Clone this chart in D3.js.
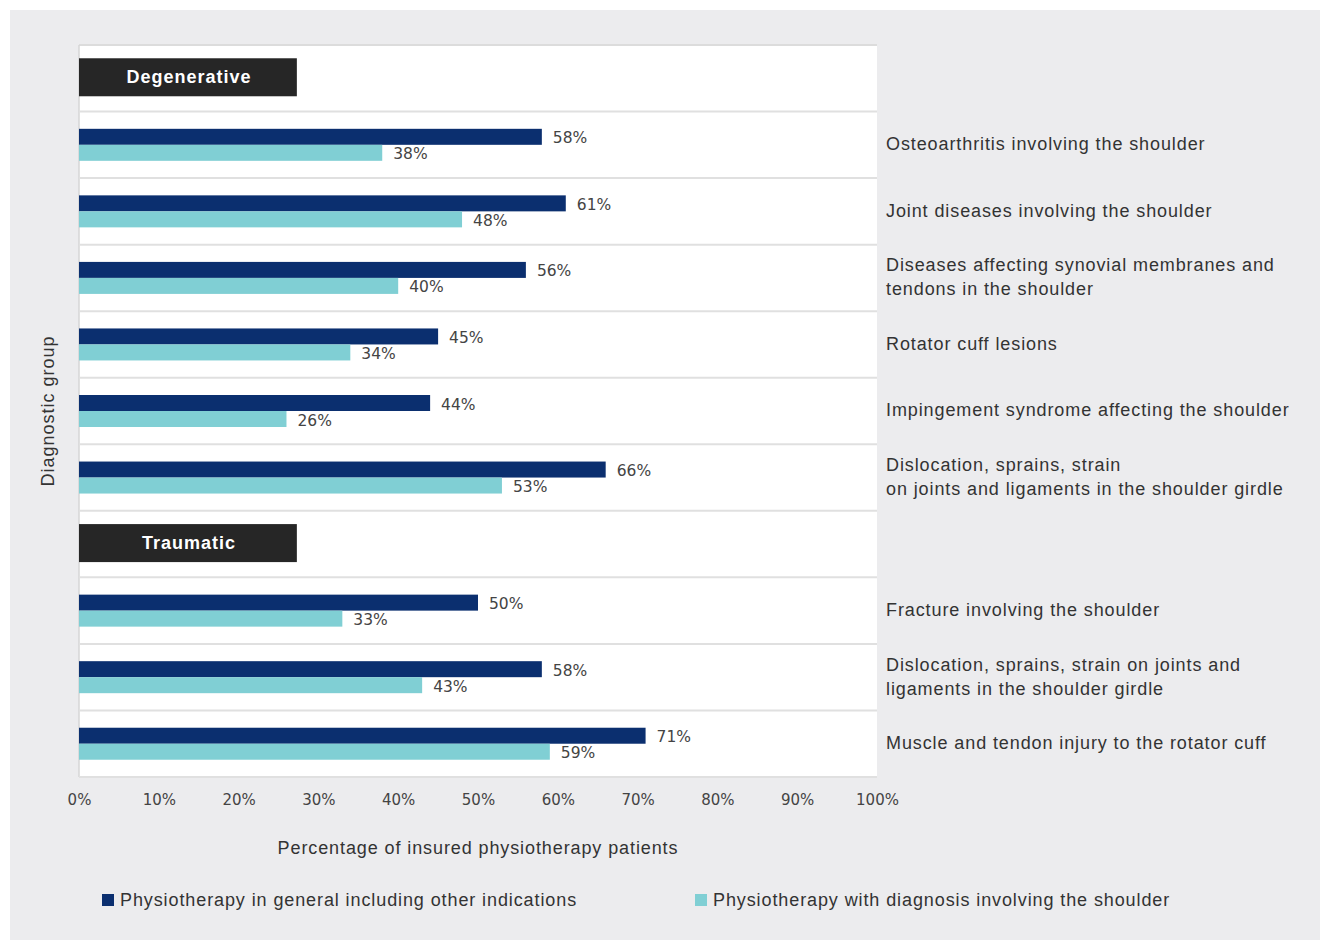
<!DOCTYPE html>
<html><head><meta charset="utf-8">
<script src="https://cdn.jsdelivr.net/npm/d3@7/dist/d3.min.js"></script>
<style>
html,body{margin:0;padding:0;background:#fff;}
svg{display:block;}
</style></head>
<body>
<svg id="chart" width="1320" height="940"></svg>
<script>
// ---- data ----
const groupNames = ["Degenerative", "Traumatic"];
const categories = [
  "Osteoarthritis involving the shoulder",
  "Joint diseases involving the shoulder",
  "Diseases affecting synovial membranes and\ntendons in the shoulder",
  "Rotator cuff lesions",
  "Impingement syndrome affecting the shoulder",
  "Dislocation, sprains, strain\non joints and ligaments in the shoulder girdle",
  "Fracture involving the shoulder",
  "Dislocation, sprains, strain on joints and\nligaments in the shoulder girdle",
  "Muscle and tendon injury to the rotator cuff"
];
const categoryGroup = ["Degenerative","Degenerative","Degenerative","Degenerative","Degenerative","Degenerative","Traumatic","Traumatic","Traumatic"];
const generalValues  = [58, 61, 56, 45, 44, 66, 50, 58, 71];
const shoulderValues = [38, 48, 40, 34, 26, 53, 33, 43, 59];
const seriesNames = ["Physiotherapy in general including other indications", "Physiotherapy with diagnosis involving the shoulder"];
const xTicks = [0, 10, 20, 30, 40, 50, 60, 70, 80, 90, 100];
const xTitle = "Percentage of insured physiotherapy patients";
const yTitle = "Diagnostic group";

// ---- build rows ----
const rows = [];
groupNames.forEach(g => {
  rows.push({key: "H_" + g, header: true, label: g});
  categories.forEach((c, i) => {
    if (categoryGroup[i] === g) rows.push({key: "C_" + i, header: false, label: c, general: generalValues[i], shoulder: shoulderValues[i]});
  });
});

const colDark = "#0b2f6f", colLight = "#80cfd4";
const textFont = "Liberation Sans, Arial, sans-serif";
const numFont = "DejaVu Sans, sans-serif";
const ls = "0.9px";
const svg = d3.select("#chart");

// background panel
svg.append("rect").attr("x", 10).attr("y", 10).attr("width", 1310).attr("height", 930).attr("fill", "#ececee");

const plot = {left: 79, right: 877, top: 45, bottom: 777};
const x = d3.scaleLinear().domain([0, 100]).range([plot.left, plot.right]);
const y = d3.scaleBand().domain(rows.map(r => r.key)).range([plot.top, plot.bottom]).padding(0);
const sub = d3.scaleBand().domain(["general", "shoulder"]).range([0, 32]).padding(0);

// plot bg
svg.append("rect").attr("x", plot.left).attr("y", plot.top)
  .attr("width", plot.right - plot.left).attr("height", plot.bottom - plot.top).attr("fill", "#fff");
// top border
svg.append("line").attr("x1", plot.left).attr("x2", plot.right).attr("y1", plot.top).attr("y2", plot.top)
  .attr("stroke", "#dcdcdc").attr("stroke-width", 2);
// left axis line
svg.append("line").attr("x1", plot.left).attr("x2", plot.left).attr("y1", plot.top).attr("y2", plot.bottom)
  .attr("stroke", "#d6d6d6").attr("stroke-width", 1.5);

// separators
svg.append("g").selectAll("line").data(rows.slice(1).map(r => r.key).concat(["__end"])).join("line")
  .attr("x1", plot.left).attr("x2", plot.right)
  .attr("y1", d => d === "__end" ? plot.bottom : y(d))
  .attr("y2", d => d === "__end" ? plot.bottom : y(d))
  .attr("stroke", "#e0e0e0").attr("stroke-width", 2);

const bw = y.bandwidth();

// headers
const hdr = svg.append("g").selectAll("g").data(rows.filter(r => r.header)).join("g");
hdr.append("rect").attr("x", x(0)).attr("y", d => y(d.key) + bw / 2 - 20)
  .attr("width", x(27.3) - x(0)).attr("height", 38).attr("fill", "#262626");
hdr.append("text").attr("x", (x(0) + x(27.3)) / 2 + 1).attr("y", d => y(d.key) + bw / 2 - 2)
  .attr("dy", "0.36em").attr("text-anchor", "middle")
  .attr("font-family", textFont).attr("font-weight", "bold").attr("letter-spacing", "1px")
  .attr("font-size", 18).attr("fill", "#fff").text(d => d.label);

// bars
const cats = rows.filter(r => !r.header);
const cg = svg.append("g").selectAll("g").data(cats).join("g")
  .attr("transform", d => `translate(0,${y(d.key) + bw / 2 - 16})`);
["general", "shoulder"].forEach(s => {
  cg.append("rect").attr("x", x(0)).attr("y", sub(s))
    .attr("width", d => x(d[s]) - x(0)).attr("height", sub.bandwidth())
    .attr("fill", s === "general" ? colDark : colLight);
  cg.append("text").attr("x", d => x(d[s]) + 11).attr("y", sub(s) + sub.bandwidth() / 2 + 1)
    .attr("dy", "0.36em").attr("font-family", numFont).attr("font-size", 15.5)
    .attr("fill", "#444").text(d => d[s] + "%");
});

// category labels
const lab = svg.append("g").selectAll("text").data(cats).join("text")
  .attr("x", 886).attr("font-family", textFont).attr("font-size", 18).attr("letter-spacing", ls)
  .attr("fill", "#333");
lab.each(function(d) {
  const lines = d.label.split("\n");
  const lh = 24;
  const c = y(d.key) + bw / 2 - 1;
  const t = d3.select(this);
  lines.forEach((ln, i) => {
    t.append("tspan").attr("x", 886).attr("y", c - (lines.length - 1) * lh / 2 + i * lh)
      .attr("dy", "0.36em").text(ln);
  });
});

// x axis
const xAxis = d3.axisBottom(x).tickValues(xTicks).tickFormat(d => d + "%").tickSize(0).tickPadding(0);
const ax = svg.append("g").attr("transform", `translate(0,${plot.bottom})`).call(xAxis);
ax.select(".domain").remove();
ax.selectAll("text").attr("y", 23).attr("dy", "0.36em")
  .attr("font-family", numFont).attr("font-size", 15).attr("fill", "#444");

// titles
svg.append("text").attr("x", (plot.left + plot.right) / 2).attr("y", 848).attr("dy", "0.36em")
  .attr("text-anchor", "middle").attr("font-family", textFont).attr("letter-spacing", ls)
  .attr("font-size", 18).attr("fill", "#333").text(xTitle);
svg.append("text").attr("transform", `translate(48,${(plot.top + plot.bottom) / 2}) rotate(-90)`)
  .attr("dy", "0.36em").attr("text-anchor", "middle").attr("font-family", textFont).attr("letter-spacing", "1px")
  .attr("font-size", 18).attr("fill", "#333").text(yTitle);

// legend
const legX = [102, 695];
const lg = svg.append("g").selectAll("g").data(seriesNames).join("g")
  .attr("transform", (d, i) => `translate(${legX[i]},900)`);
lg.append("rect").attr("x", 0).attr("y", -6).attr("width", 12).attr("height", 12)
  .attr("fill", (d, i) => i === 0 ? colDark : colLight);
lg.append("text").attr("x", 18).attr("y", 0).attr("dy", "0.36em")
  .attr("font-family", textFont).attr("font-size", 18).attr("letter-spacing", ls)
  .attr("fill", "#333").text(d => d);
</script>
</body></html>
